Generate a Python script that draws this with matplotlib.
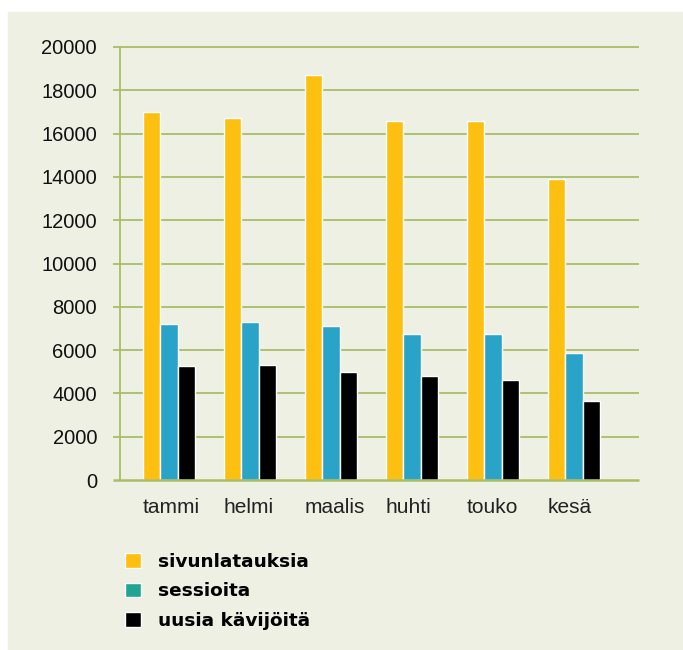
import matplotlib.pyplot as plt
from matplotlib.patches import Rectangle, Patch
import numpy as np

# ----------------------------------------------------------
# data
# ----------------------------------------------------------
months = ["tammi", "helmi", "maalis", "huhti", "touko", "kesä"]
sivunlatauksia = [17000, 16700, 18700, 16600, 16600, 13900]
sessioita = [7200, 7300, 7100, 6730, 6730, 5850]
uudet = [5250, 5330, 4980, 4800, 4620, 3660]

series_names = ["sivunlatauksia", "sessioita", "uusia kävijöitä"]
bar_colors = ["#FDC010", "#29A4C8", "#000000"]
legend_colors = ["#FDC010", "#1FA591", "#000000"]

yticks = [0, 2000, 4000, 6000, 8000, 10000, 12000, 14000, 16000, 18000, 20000]

plt.rcParams["font.family"] = ["Liberation Sans", "DejaVu Sans"]

W, H = 683, 650
fig = plt.figure(figsize=(W / 100, H / 100), dpi=100)
fig.patch.set_facecolor("white")

# panel background
fig.patches.append(Rectangle((8 / W, 0), 1 - 8 / W, 1 - 12 / H,
                             transform=fig.transFigure, color="#EDF0E3", zorder=-10))

# axes: left 120px, right 639px, top 47px, bottom 480px
ax = fig.add_axes([120 / W, 1 - 480 / H, (639 - 120) / W, (480 - 47) / H])
ax.set_facecolor("none")

x = np.arange(len(months))
bw = 0.215
for k, vals in enumerate([sivunlatauksia, sessioita, uudet]):
    ax.bar(x + (k - 1) * bw, vals, width=bw, color=bar_colors[k],
           edgecolor="white", linewidth=1.0, zorder=3)

ax.set_xlim(-0.605, 5.80)
ax.set_ylim(0, 20000)

grid_c = "#A9BD68"
for v in yticks[1:]:
    ax.plot([-0.69, 5.80], [v, v], color=grid_c, lw=1.3, zorder=1,
            clip_on=False, solid_capstyle="butt")
ax.plot([-0.69, 5.80], [0, 0], color=grid_c, lw=1.8, zorder=4,
        clip_on=False, solid_capstyle="butt")

for s in ["top", "right", "bottom"]:
    ax.spines[s].set_visible(False)
ax.spines["left"].set_color(grid_c)
ax.spines["left"].set_linewidth(1.3)

ax.set_yticks(yticks)
ax.set_yticklabels([str(v) for v in yticks], fontsize=14.5, color="#111111")
ax.tick_params(axis="y", length=0, pad=16.5)

ax.set_xticks(x - 1.5 * bw)
ax.set_xticklabels(months, fontsize=15, color="#222222", ha="left")
ax.tick_params(axis="x", length=0, pad=13)

handles = [Patch(facecolor=c, edgecolor="white", linewidth=1.0) for c in legend_colors]
fig.legend(handles, series_names, loc="upper left",
           bbox_to_anchor=(125 / W, 1 - 553 / H), frameon=False,
           prop={"size": 13.3, "weight": "bold", "family": "DejaVu Sans"},
           handlelength=0.85, handleheight=0.85, handletextpad=0.95,
           labelspacing=0.62, borderaxespad=0, borderpad=0)

fig.savefig("out.png", dpi=100)
